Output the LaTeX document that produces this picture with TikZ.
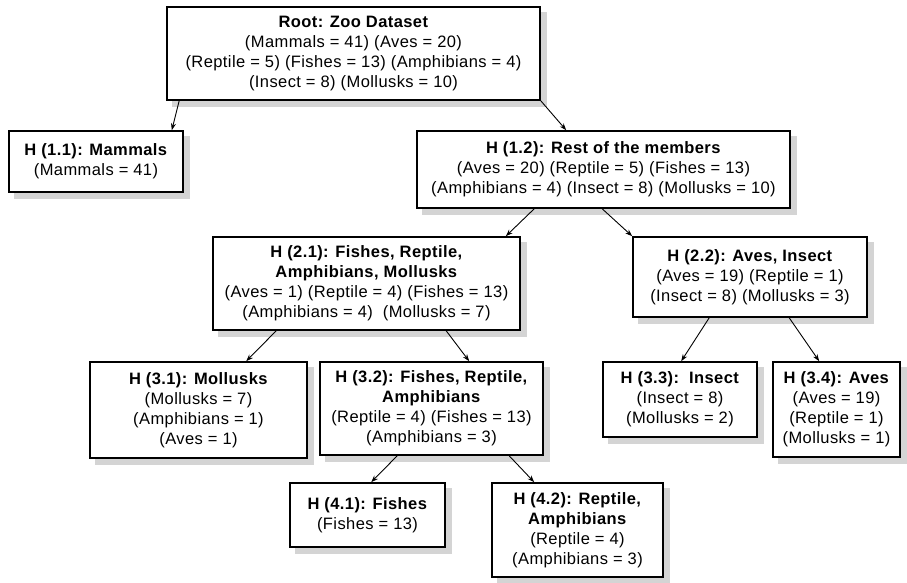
\documentclass[tikz,border=0pt]{standalone}
\usepackage{fontspec}
\setmainfont[LetterSpace=2.5]{Liberation Sans}
\usetikzlibrary{arrows.meta}
\pgfdeclarelayer{background}
\pgfsetlayers{background,main}
\tikzset{
  hbox/.style={draw=black, line width=1.6pt, fill=white, align=center, inner sep=0pt,
    font=\fontsize{16.5}{20}\selectfont},
  shadowfill/.style={fill=black!17, draw=none},
  link/.style={line width=0.9pt, -{Stealth[length=7pt,width=5pt]}}
}
\begin{document}
\begin{tikzpicture}[x=1pt,y=-1pt]
\useasboundingbox (0,0) rectangle (907,583);
\node[hbox, minimum width=373pt, minimum height=93pt] (root) at (353.5,53.5)
  {\textbf{Root: Zoo Dataset}\\(Mammals = 41) (Aves = 20)\\(Reptile = 5) (Fishes = 13) (Amphibians = 4)\\(Insect = 8) (Mollusks = 10)};
\node[hbox, minimum width=174pt, minimum height=61pt] (h11) at (96,161.5)
  {\textbf{H (1.1): Mammals}\\(Mammals = 41)};
\node[hbox, minimum width=373pt, minimum height=77pt] (h12) at (603.5,169.5)
  {\textbf{H (1.2): Rest of the members}\\(Aves = 20) (Reptile = 5) (Fishes = 13)\\(Amphibians = 4) (Insect = 8) (Mollusks = 10)};
\node[hbox, minimum width=307pt, minimum height=93pt] (h21) at (366.5,283.5)
  {\textbf{H (2.1): Fishes, Reptile,}\\\textbf{Amphibians, Mollusks}\\(Aves = 1) (Reptile = 4) (Fishes = 13)\\(Amphibians = 4)\ \ (Mollusks = 7)};
\node[hbox, minimum width=234pt, minimum height=80pt] (h22) at (750,277)
  {\textbf{H (2.2): Aves, Insect}\\(Aves = 19) (Reptile = 1)\\(Insect = 8) (Mollusks = 3)};
\node[hbox, minimum width=217pt, minimum height=96pt] (h31) at (198.5,410)
  {\textbf{H (3.1): Mollusks}\\(Mollusks = 7)\\(Amphibians = 1)\\(Aves = 1)};
\node[hbox, minimum width=223pt, minimum height=93pt] (h32) at (431.5,408.5)
  {\textbf{H (3.2): Fishes, Reptile,}\\\textbf{Amphibians}\\(Reptile = 4) (Fishes = 13)\\(Amphibians = 3)};
\node[hbox, minimum width=154pt, minimum height=75pt] (h33) at (680,399.5)
  {\textbf{H (3.3):\ \ Insect}\\(Insect = 8)\\(Mollusks = 2)};
\node[hbox, minimum width=127pt, minimum height=95pt] (h34) at (836.5,409.5)
  {\textbf{H (3.4): Aves}\\(Aves = 19)\\(Reptile = 1)\\(Mollusks = 1)};
\node[hbox, minimum width=155pt, minimum height=64pt] (h41) at (367.5,515)
  {\textbf{H (4.1): Fishes}\\(Fishes = 13)};
\node[hbox, minimum width=171pt, minimum height=94pt] (h42) at (577.5,530)
  {\textbf{H (4.2): Reptile,}\\\textbf{Amphibians}\\(Reptile = 4)\\(Amphibians = 3)};
\begin{pgfonlayer}{background}
\foreach \n in {root,h11,h12,h21,h22,h31,h32,h33,h34,h41,h42}
  \fill[shadowfill] ([xshift=6pt,yshift=-6pt]\n.south west) rectangle ([xshift=6pt,yshift=-6pt]\n.north east);
\end{pgfonlayer}
\draw[link] ([xshift=13pt]root.south west) -- ([xshift=-12pt]h11.north east);
\draw[link] (root.south east) -- ([xshift=150pt]h12.north west);
\draw[link] ([xshift=118pt]h12.south west) -- ([xshift=-15pt]h21.north east);
\draw[link] ([xshift=186pt]h12.south west) -- (h22.north west);
\draw[link] ([xshift=64pt]h21.south west) -- ([xshift=157pt]h31.north west);
\draw[link] ([xshift=234pt]h21.south west) -- ([xshift=150pt]h32.north west);
\draw[link] ([xshift=77pt]h22.south west) -- ([xshift=79pt]h33.north west);
\draw[link] ([xshift=157pt]h22.south west) -- ([xshift=47pt]h34.north west);
\draw[link] ([xshift=78pt]h32.south west) -- ([xshift=82pt]h41.north west);
\draw[link] ([xshift=190pt]h32.south west) -- ([xshift=43pt]h42.north west);
\end{tikzpicture}
\end{document}
